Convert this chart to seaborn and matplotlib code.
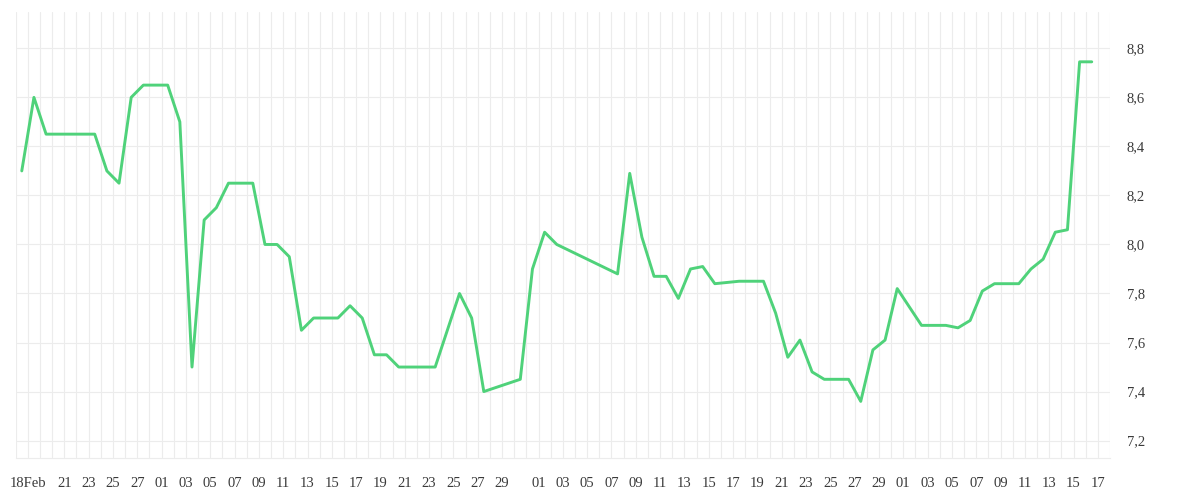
import pandas as pd
import matplotlib
matplotlib.use('Agg')
import matplotlib.pyplot as plt
import matplotlib.dates as mdates
import matplotlib.ticker as mticker
import seaborn as sns


# daily readings (only the days that appear as vertices on the chart)
dates = ['2021-02-17', '2021-02-18', '2021-02-19', '2021-02-23', '2021-02-24',
         '2021-02-25', '2021-02-26', '2021-02-27', '2021-03-01', '2021-03-02',
         '2021-03-03', '2021-03-04', '2021-03-05', '2021-03-06', '2021-03-08',
         '2021-03-09', '2021-03-10', '2021-03-11', '2021-03-12', '2021-03-13',
         '2021-03-15', '2021-03-16', '2021-03-17', '2021-03-18', '2021-03-19',
         '2021-03-20', '2021-03-23', '2021-03-25', '2021-03-26', '2021-03-27',
         '2021-03-30', '2021-03-31', '2021-04-01', '2021-04-02', '2021-04-07',
         '2021-04-08', '2021-04-09', '2021-04-10', '2021-04-11', '2021-04-12',
         '2021-04-13', '2021-04-14', '2021-04-15', '2021-04-16', '2021-04-17',
         '2021-04-19', '2021-04-20', '2021-04-21', '2021-04-22', '2021-04-23',
         '2021-04-24', '2021-04-26', '2021-04-27', '2021-04-28', '2021-04-29',
         '2021-04-30', '2021-05-02', '2021-05-04', '2021-05-05', '2021-05-06',
         '2021-05-07', '2021-05-08', '2021-05-10', '2021-05-11', '2021-05-12',
         '2021-05-13', '2021-05-14', '2021-05-15', '2021-05-16']

values = [8.30, 8.60, 8.45, 8.45, 8.30,
          8.25, 8.60, 8.65, 8.65, 8.50,
          7.50, 8.10, 8.15, 8.25, 8.25,
          8.00, 8.00, 7.95, 7.65, 7.70,
          7.70, 7.75, 7.70, 7.55, 7.55,
          7.50, 7.50, 7.80, 7.70, 7.40,
          7.45, 7.90, 8.05, 8.00, 7.88,
          8.29, 8.03, 7.87, 7.87, 7.78,
          7.90, 7.91, 7.84, 7.845, 7.85,
          7.85, 7.72, 7.54, 7.61, 7.48,
          7.45, 7.45, 7.36, 7.57, 7.61,
          7.82, 7.67, 7.67, 7.66, 7.69,
          7.81, 7.84, 7.84, 7.90, 7.94,
          8.05, 8.06, 8.745, 8.745]

y_ticks = [7.2, 7.4, 7.6, 7.8, 8.0, 8.2, 8.4, 8.6, 8.8]
x_start, x_end = '2021-02-17', '2021-05-18'


LINE  = '#4fd27a'
GRID  = '#ececec'
TEXT  = '#3a3a3a'

df = pd.DataFrame({'date': pd.to_datetime(dates), 'value': values})
# each reading sits in the middle of its day column
df['date'] = df['date'] + pd.Timedelta(hours=12)

sns.set_style('white')
plt.rcParams['font.family'] = ['Liberation Serif', 'DejaVu Serif']

fig = plt.figure(figsize=(12, 5), dpi=100)
ax = fig.add_axes([0.01308, 0.084, 0.91192, 0.8914])

sns.lineplot(data=df, x='date', y='value', color=LINE, linewidth=2.1, ax=ax)

ax.set_xlim(pd.Timestamp(x_start), pd.Timestamp(x_end))
ax.set_ylim(7.129, 8.947)

# x ticks: first day, then odd days up to the 29th
all_days = pd.date_range('2021-02-21', '2021-05-17', freq='D')
tick_days = [pd.Timestamp('2021-02-18')] + [d for d in all_days if d.day % 2 == 1 and d.day < 30]
tick_labels = ['18Feb'] + [d.strftime('%d') for d in tick_days[1:]]
ax.set_xticks(tick_days)
ax.set_xticklabels(tick_labels)
ax.xaxis.set_minor_locator(mdates.DayLocator())

ax.yaxis.tick_right()
ax.set_yticks(y_ticks)
ax.yaxis.set_major_formatter(mticker.FuncFormatter(lambda v, p: f'{v:.1f}'.replace('.', ',')))

ax.grid(True, which='both', axis='x', color=GRID, linewidth=0.8)
ax.grid(True, which='major', axis='y', color=GRID, linewidth=0.8)
ax.set_axisbelow(True)

ax.tick_params(axis='x', which='both', length=7.5, width=0.8, color=GRID,
               labelsize=10.5, labelcolor=TEXT, pad=6.5)
ax.tick_params(axis='y', length=0, labelsize=10.5, labelcolor=TEXT, pad=12)

for side in ['top', 'left', 'right']:
    ax.spines[side].set_visible(False)
ax.spines['bottom'].set_color(GRID)
ax.spines['bottom'].set_linewidth(0.8)

ax.set_xlabel('')
ax.set_ylabel('')

fig.savefig('out.png', dpi=100)
